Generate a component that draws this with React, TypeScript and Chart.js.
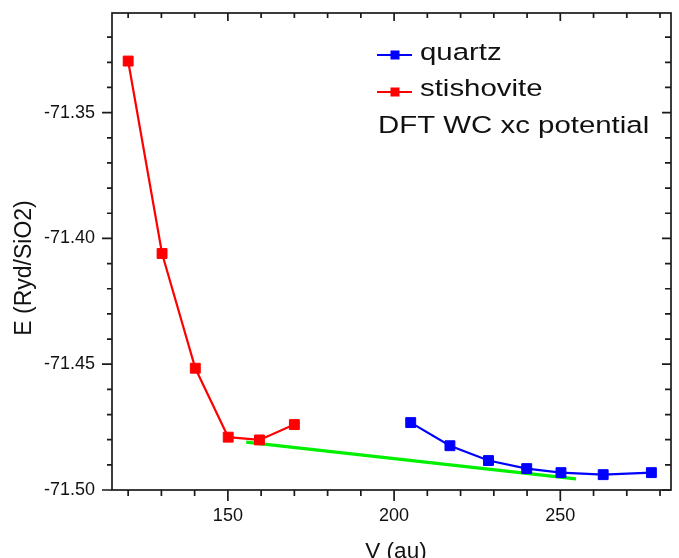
import React, { useEffect, useRef } from 'react';
import { Chart, registerables } from 'chart.js';

Chart.register(...registerables);

// ---- data ----
const quartzV = [205, 216.8, 228.4, 239.9, 250.2, 262.9, 277.4];
const quartzE = [-71.4732, -71.4824, -71.4883, -71.4915, -71.4931, -71.4939, -71.4931];

const stishoviteV = [120, 130.2, 140.2, 150.1, 159.5, 170];
const stishoviteE = [-71.3295, -71.406, -71.4516, -71.479, -71.4801, -71.474];

const fitV = [155.5, 254.7];
const fitE = [-71.481, -71.4956];

const xMajorTicks = [150, 200, 250];
const xMinorTicks = [120, 130, 140, 160, 170, 180, 190, 210, 220, 230, 240, 260, 270, 280];
const yMajorTicks = [-71.5, -71.45, -71.4, -71.35];
const yMinorTicks = [
  -71.49, -71.48, -71.47, -71.46, -71.44, -71.43, -71.42, -71.41,
  -71.39, -71.38, -71.37, -71.36, -71.34, -71.33, -71.32,
];

const seriesLabels = ['quartz', 'stishovite'];
const noteText = 'DFT WC xc potential';
const xTitle = 'V (au)';
const yTitle = 'E (Ryd/SiO2)';

const X_MIN = 115.14;
const X_MAX = 283.3;
const Y_MIN = -71.5;
const Y_MAX = -71.3104;

const BLUE = '#0000ff';
const RED = '#ff0000';
const GREEN = '#00f000';
const AXIS = '#1a1a1a';
const FONT = "'Liberation Sans', Arial, sans-serif";

const toPoints = (xs: number[], ys: number[]) => xs.map((v, i) => ({ x: v, y: ys[i] }));

const decorPlugin = {
  id: 'decor',
  afterDraw(chart: any) {
    const { ctx, chartArea: a } = chart;
    const xs = chart.scales.x;
    const ys = chart.scales.y;
    ctx.save();
    // frame
    ctx.strokeStyle = AXIS;
    ctx.lineWidth = 1.7;
    ctx.strokeRect(a.left, a.top, a.right - a.left, a.bottom - a.top);
    // ticks
    ctx.beginPath();
    const seg = (px: number, py: number, dx: number, dy: number) => {
      ctx.moveTo(px, py);
      ctx.lineTo(px + dx, py + dy);
    };
    xMajorTicks.forEach((v) => {
      const p = xs.getPixelForValue(v);
      seg(p, a.bottom, 0, 11);
      seg(p, a.top, 0, 8);
    });
    xMinorTicks.forEach((v) => {
      const p = xs.getPixelForValue(v);
      seg(p, a.bottom, 0, 6);
      seg(p, a.top, 0, 5);
    });
    yMajorTicks.forEach((v) => {
      const p = ys.getPixelForValue(v);
      seg(a.left, p, -10, 0);
      seg(a.right, p, -9, 0);
    });
    yMinorTicks.forEach((v) => {
      const p = ys.getPixelForValue(v);
      seg(a.left, p, -5, 0);
      seg(a.right, p, -6, 0);
    });
    ctx.stroke();

    // axis titles
    ctx.fillStyle = '#111';
    ctx.font = `22.5px ${FONT}`;
    ctx.textAlign = 'center';
    ctx.textBaseline = 'alphabetic';
    ctx.fillText(xTitle, 396, 558);
    ctx.save();
    ctx.font = `23px ${FONT}`;
    ctx.translate(31, 268);
    ctx.rotate(-Math.PI / 2);
    ctx.fillText(yTitle, 0, 0);
    ctx.restore();

    // legend
    const colors = [BLUE, RED];
    const rows = [55, 92];
    const baselines = [59.5, 96];
    seriesLabels.forEach((lab, i) => {
      ctx.strokeStyle = colors[i];
      ctx.lineWidth = 2;
      ctx.beginPath();
      ctx.moveTo(377, rows[i]);
      ctx.lineTo(412, rows[i]);
      ctx.stroke();
      ctx.fillStyle = colors[i];
      ctx.fillRect(395 - 4.5, rows[i] - 4.5, 9, 9);
      ctx.fillStyle = '#111';
      ctx.font = `24.5px ${FONT}`;
      ctx.textAlign = 'left';
      ctx.save();
      ctx.translate(420, baselines[i]);
      ctx.scale(1.2, 1);
      ctx.fillText(lab, 0, 0);
      ctx.restore();
    });
    ctx.save();
    ctx.translate(378, 133);
    ctx.scale(1.2, 1);
    ctx.fillStyle = '#111';
    ctx.fillText(noteText, 0, 0);
    ctx.restore();

    ctx.restore();
  },
};

export default function App() {
  const ref = useRef<HTMLCanvasElement | null>(null);

  useEffect(() => {
    document.body.style.margin = '0';
    const canvas = ref.current;
    if (!canvas) return;
    const chart = new Chart(canvas, {
      type: 'line',
      data: {
        datasets: [
          {
            label: seriesLabels[0],
            data: toPoints(quartzV, quartzE),
            borderColor: BLUE,
            backgroundColor: BLUE,
            borderWidth: 2.2,
            pointStyle: 'rect',
            pointRadius: 7,
            pointBorderWidth: 1,
            pointBorderColor: BLUE,
            pointBackgroundColor: BLUE,
            tension: 0,
            order: 1,
          },
          {
            label: seriesLabels[1],
            data: toPoints(stishoviteV, stishoviteE),
            borderColor: RED,
            backgroundColor: RED,
            borderWidth: 2.2,
            pointStyle: 'rect',
            pointRadius: 7,
            pointBorderWidth: 1,
            pointBorderColor: RED,
            pointBackgroundColor: RED,
            tension: 0,
            order: 2,
          },
          {
            label: 'fit',
            data: toPoints(fitV, fitE),
            borderColor: GREEN,
            borderWidth: 3.2,
            pointRadius: 0,
            tension: 0,
            order: 3,
          },
        ],
      },
      options: {
        responsive: false,
        animation: false,
        layout: { padding: { top: 13, right: 5, left: 0, bottom: 0 } },
        plugins: {
          legend: { display: false },
          tooltip: { enabled: false },
          title: { display: false },
        },
        scales: {
          x: {
            type: 'linear',
            min: X_MIN,
            max: X_MAX,
            grid: { display: false, drawTicks: false },
            border: { display: false },
            afterBuildTicks: (s: any) => {
              s.ticks = xMajorTicks.map((v) => ({ value: v }));
            },
            afterFit: (s: any) => {
              s.height = 68;
              s.paddingLeft = 0;
              s.paddingRight = 0;
            },
            ticks: {
              autoSkip: false,
              maxRotation: 0,
              padding: 15,
              color: '#111',
              font: { family: FONT, size: 18 },
              callback: (v: any) => String(v),
            },
          },
          y: {
            type: 'linear',
            min: Y_MIN,
            max: Y_MAX,
            grid: { display: false, drawTicks: false },
            border: { display: false },
            afterBuildTicks: (s: any) => {
              s.ticks = yMajorTicks.map((v) => ({ value: v }));
            },
            afterFit: (s: any) => {
              s.width = 112;
              s.paddingTop = 0;
              s.paddingBottom = 0;
            },
            ticks: {
              autoSkip: false,
              padding: 17,
              color: '#111',
              font: { family: FONT, size: 18 },
              callback: (v: any) => Number(v).toFixed(2),
            },
          },
        },
      },
      plugins: [decorPlugin],
    });
    return () => chart.destroy();
  }, []);

  return (
    <div style={{ width: 679, height: 558, position: 'relative', background: '#fff' }}>
      <canvas ref={ref} width={679} height={558} />
    </div>
  );
}
